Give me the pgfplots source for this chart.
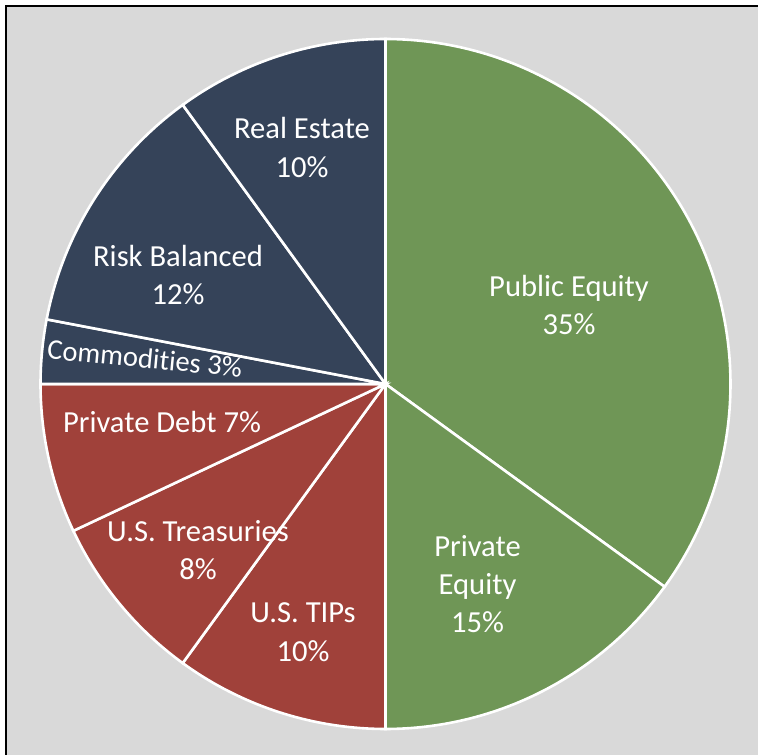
\documentclass[border=0pt]{standalone}
\usepackage{pgfplots}
\pgfplotsset{compat=1.18}
\usepackage{fontspec}
\setmainfont{Carlito}[Ligatures={NoCommon}]
\definecolor{pgreen}{RGB}{111,150,86}
\definecolor{pnavy}{RGB}{53,67,89}
\definecolor{pred}{RGB}{160,65,58}
\definecolor{bg}{RGB}{217,217,217}

\def\cum{0}
\newcommand\slice[2]{%
  \pgfmathsetmacro\sa{90-3.6*\cum}%
  \pgfmathsetmacro\sb{90-3.6*(\cum+#1)}%
  \edef\doslice{\noexpand\addplot[fill=#2, draw=white, line width=2.6pt, line join=miter, domain=\sb:\sa, samples=120] ({cos(x)},{sin(x)}) -- (axis cs:0,0) -- cycle;}%
  \doslice
  \pgfmathsetmacro\newcum{\cum+#1}%
  \global\let\cum\newcum
}
\newcommand\lab{\fontsize{30.6}{37}\selectfont}

\begin{document}
\begin{tikzpicture}
\useasboundingbox (0,0) rectangle (758pt,755pt);
\fill[white] (0,0) rectangle (758pt,755pt);
\fill[bg] (6pt,0) rectangle (758pt,749pt);
\draw[black, line width=2.5pt] (6pt,0) -- (6pt,749pt) -- (758pt,749pt);
\begin{axis}[
  hide axis, scale only axis,
  width=690pt, height=690pt,
  xmin=-1, xmax=1, ymin=-1, ymax=1,
  clip=false,
  at={(40.5pt,26pt)}, anchor=south west,
]
% shares in percent, clockwise from 12 o'clock
\slice{35}{pgreen}  % Public Equity
\slice{15}{pgreen}  % Private Equity
\slice{10}{pred}    % U.S. TIPs
\slice{8}{pred}     % U.S. Treasuries
\slice{7}{pred}     % Private Debt
\slice{3}{pnavy}    % Commodities
\slice{12}{pnavy}   % Risk Balanced
\slice{10}{pnavy}   % Real Estate
\end{axis}
\begin{scope}[every node/.style={text=white, font=\lab, inner sep=0pt}]
\node[anchor=base] at (569pt,458pt) {Public Equity};
\node[anchor=base] at (569pt,420pt) {35\%};
\node[anchor=base] at (477.5pt,198pt) {Private};
\node[anchor=base] at (477.5pt,160pt) {Equity};
\node[anchor=base] at (477.5pt,122pt) {15\%};
\node[anchor=base] at (303pt,132pt) {U.S. TIPs};
\node[anchor=base] at (303pt,93pt) {10\%};
\node[anchor=base] at (198pt,213pt) {U.S. Treasuries};
\node[anchor=base] at (198pt,175pt) {8\%};
\node[anchor=base] at (162pt,322pt) {Private Debt 7\%};
\node[anchor=base, rotate=-5.4, font=\fontsize{28.6}{34}\selectfont] at (144pt,387pt) {Commodities 3\%};
\node[anchor=base] at (178pt,488pt) {Risk Balanced};
\node[anchor=base] at (178pt,450pt) {12\%};
\node[anchor=base] at (302pt,616pt) {Real Estate};
\node[anchor=base] at (302pt,577pt) {10\%};
\end{scope}
\end{tikzpicture}
\end{document}
